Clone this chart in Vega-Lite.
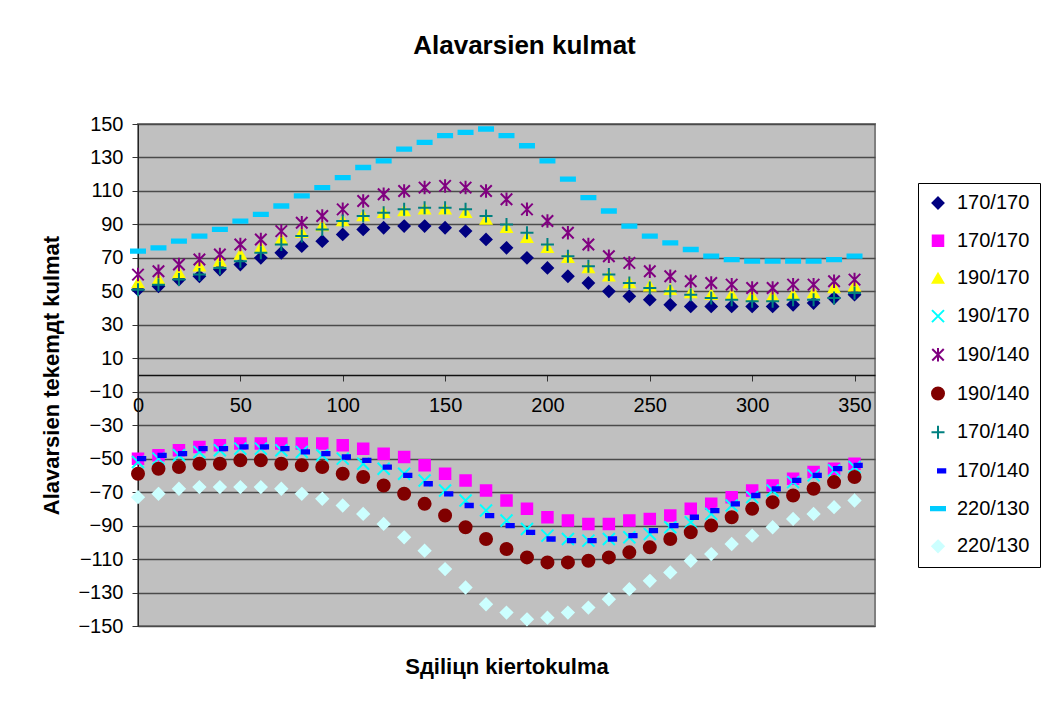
{
  "$schema": "https://vega.github.io/schema/vega-lite/v6.json",
  "autosize": "none",
  "width": 737,
  "height": 502,
  "padding": {"left": 138, "top": 124, "right": 167, "bottom": 78},
  "background": "white",
  "title": {"text": "Alavarsien kulmat", "font": "Liberation Sans", "fontSize": 26, "fontWeight": "bold", "color": "black", "anchor": "middle", "dx": 18, "baseline": "alphabetic", "offset": 34},
  "config": {
    "view": {"fill": "#C0C0C0", "stroke": "#808080", "strokeWidth": 2},
    "axis": {"labelFont": "Liberation Sans", "labelFontSize": 20, "labelColor": "black", "titleFont": "Liberation Sans", "titleFontSize": 22, "titleFontWeight": "bold", "titleColor": "black", "tickColor": "#333", "domainColor": "#222", "tickSize": 6},
    "legend": {"labelFont": "Liberation Sans", "labelFontSize": 20, "labelColor": "black"}
  },
  "data": {"values": [
    {"s":"a","x":0,"y":51},{"s":"a","x":10,"y":53},{"s":"a","x":20,"y":57},{"s":"a","x":30,"y":59},{"s":"a","x":40,"y":63},{"s":"a","x":50,"y":66},{"s":"a","x":60,"y":70},{"s":"a","x":70,"y":73},{"s":"a","x":80,"y":77},{"s":"a","x":90,"y":80},{"s":"a","x":100,"y":84},{"s":"a","x":110,"y":87},{"s":"a","x":120,"y":88},{"s":"a","x":130,"y":89},{"s":"a","x":140,"y":89},{"s":"a","x":150,"y":88},{"s":"a","x":160,"y":86},{"s":"a","x":170,"y":81},{"s":"a","x":180,"y":76},{"s":"a","x":190,"y":70},{"s":"a","x":200,"y":64},{"s":"a","x":210,"y":59},{"s":"a","x":220,"y":55},{"s":"a","x":230,"y":50},{"s":"a","x":240,"y":47},{"s":"a","x":250,"y":45},{"s":"a","x":260,"y":42},{"s":"a","x":270,"y":41},{"s":"a","x":280,"y":41},{"s":"a","x":290,"y":41},{"s":"a","x":300,"y":41},{"s":"a","x":310,"y":41},{"s":"a","x":320,"y":42},{"s":"a","x":330,"y":43},{"s":"a","x":340,"y":46},{"s":"a","x":350,"y":48},
    {"s":"b","x":0,"y":-50},{"s":"b","x":10,"y":-48},{"s":"b","x":20,"y":-45},{"s":"b","x":30,"y":-43},{"s":"b","x":40,"y":-42},{"s":"b","x":50,"y":-41},{"s":"b","x":60,"y":-41},{"s":"b","x":70,"y":-41},{"s":"b","x":80,"y":-41},{"s":"b","x":90,"y":-41},{"s":"b","x":100,"y":-42},{"s":"b","x":110,"y":-44},{"s":"b","x":120,"y":-47},{"s":"b","x":130,"y":-49},{"s":"b","x":140,"y":-54},{"s":"b","x":150,"y":-59},{"s":"b","x":160,"y":-63},{"s":"b","x":170,"y":-69},{"s":"b","x":180,"y":-75},{"s":"b","x":190,"y":-80},{"s":"b","x":200,"y":-85},{"s":"b","x":210,"y":-87},{"s":"b","x":220,"y":-89},{"s":"b","x":230,"y":-89},{"s":"b","x":240,"y":-87},{"s":"b","x":250,"y":-86},{"s":"b","x":260,"y":-84},{"s":"b","x":270,"y":-80},{"s":"b","x":280,"y":-77},{"s":"b","x":290,"y":-73},{"s":"b","x":300,"y":-69},{"s":"b","x":310,"y":-66},{"s":"b","x":320,"y":-62},{"s":"b","x":330,"y":-58},{"s":"b","x":340,"y":-56},{"s":"b","x":350,"y":-53},
    {"s":"c","x":0,"y":55},{"s":"c","x":10,"y":57},{"s":"c","x":20,"y":61},{"s":"c","x":30,"y":65},{"s":"c","x":40,"y":68},{"s":"c","x":50,"y":72},{"s":"c","x":60,"y":76},{"s":"c","x":70,"y":81},{"s":"c","x":80,"y":85},{"s":"c","x":90,"y":89},{"s":"c","x":100,"y":92},{"s":"c","x":110,"y":95},{"s":"c","x":120,"y":97},{"s":"c","x":130,"y":98},{"s":"c","x":140,"y":99},{"s":"c","x":150,"y":99},{"s":"c","x":160,"y":97},{"s":"c","x":170,"y":93},{"s":"c","x":180,"y":88},{"s":"c","x":190,"y":82},{"s":"c","x":200,"y":76},{"s":"c","x":210,"y":70},{"s":"c","x":220,"y":64},{"s":"c","x":230,"y":59},{"s":"c","x":240,"y":55},{"s":"c","x":250,"y":53},{"s":"c","x":260,"y":51},{"s":"c","x":270,"y":49},{"s":"c","x":280,"y":48},{"s":"c","x":290,"y":48},{"s":"c","x":300,"y":47},{"s":"c","x":310,"y":47},{"s":"c","x":320,"y":48},{"s":"c","x":330,"y":49},{"s":"c","x":340,"y":52},{"s":"c","x":350,"y":53},
    {"s":"d","x":0,"y":-52},{"s":"d","x":10,"y":-50},{"s":"d","x":20,"y":-48},{"s":"d","x":30,"y":-46},{"s":"d","x":40,"y":-45},{"s":"d","x":50,"y":-44},{"s":"d","x":60,"y":-44},{"s":"d","x":70,"y":-45},{"s":"d","x":80,"y":-46},{"s":"d","x":90,"y":-48},{"s":"d","x":100,"y":-50},{"s":"d","x":110,"y":-53},{"s":"d","x":120,"y":-56},{"s":"d","x":130,"y":-59},{"s":"d","x":140,"y":-63},{"s":"d","x":150,"y":-69},{"s":"d","x":160,"y":-75},{"s":"d","x":170,"y":-81},{"s":"d","x":180,"y":-87},{"s":"d","x":190,"y":-92},{"s":"d","x":200,"y":-96},{"s":"d","x":210,"y":-98},{"s":"d","x":220,"y":-99},{"s":"d","x":230,"y":-98},{"s":"d","x":240,"y":-97},{"s":"d","x":250,"y":-95},{"s":"d","x":260,"y":-91},{"s":"d","x":270,"y":-88},{"s":"d","x":280,"y":-83},{"s":"d","x":290,"y":-78},{"s":"d","x":300,"y":-73},{"s":"d","x":310,"y":-69},{"s":"d","x":320,"y":-64},{"s":"d","x":330,"y":-60},{"s":"d","x":340,"y":-57},{"s":"d","x":350,"y":-55},
    {"s":"e","x":0,"y":60},{"s":"e","x":10,"y":62},{"s":"e","x":20,"y":66},{"s":"e","x":30,"y":69},{"s":"e","x":40,"y":72},{"s":"e","x":50,"y":78},{"s":"e","x":60,"y":81},{"s":"e","x":70,"y":86},{"s":"e","x":80,"y":91},{"s":"e","x":90,"y":95},{"s":"e","x":100,"y":99},{"s":"e","x":110,"y":104},{"s":"e","x":120,"y":108},{"s":"e","x":130,"y":110},{"s":"e","x":140,"y":112},{"s":"e","x":150,"y":113},{"s":"e","x":160,"y":112},{"s":"e","x":170,"y":110},{"s":"e","x":180,"y":105},{"s":"e","x":190,"y":99},{"s":"e","x":200,"y":92},{"s":"e","x":210,"y":85},{"s":"e","x":220,"y":78},{"s":"e","x":230,"y":71},{"s":"e","x":240,"y":67},{"s":"e","x":250,"y":62},{"s":"e","x":260,"y":59},{"s":"e","x":270,"y":56},{"s":"e","x":280,"y":55},{"s":"e","x":290,"y":54},{"s":"e","x":300,"y":52},{"s":"e","x":310,"y":52},{"s":"e","x":320,"y":54},{"s":"e","x":330,"y":54},{"s":"e","x":340,"y":56},{"s":"e","x":350,"y":57},
    {"s":"f","x":0,"y":-59},{"s":"f","x":10,"y":-56},{"s":"f","x":20,"y":-55},{"s":"f","x":30,"y":-53},{"s":"f","x":40,"y":-53},{"s":"f","x":50,"y":-51},{"s":"f","x":60,"y":-51},{"s":"f","x":70,"y":-53},{"s":"f","x":80,"y":-54},{"s":"f","x":90,"y":-55},{"s":"f","x":100,"y":-59},{"s":"f","x":110,"y":-61},{"s":"f","x":120,"y":-66},{"s":"f","x":130,"y":-71},{"s":"f","x":140,"y":-77},{"s":"f","x":150,"y":-84},{"s":"f","x":160,"y":-91},{"s":"f","x":170,"y":-98},{"s":"f","x":180,"y":-104},{"s":"f","x":190,"y":-109},{"s":"f","x":200,"y":-112},{"s":"f","x":210,"y":-112},{"s":"f","x":220,"y":-111},{"s":"f","x":230,"y":-109},{"s":"f","x":240,"y":-106},{"s":"f","x":250,"y":-103},{"s":"f","x":260,"y":-98},{"s":"f","x":270,"y":-94},{"s":"f","x":280,"y":-90},{"s":"f","x":290,"y":-85},{"s":"f","x":300,"y":-80},{"s":"f","x":310,"y":-76},{"s":"f","x":320,"y":-72},{"s":"f","x":330,"y":-68},{"s":"f","x":340,"y":-64},{"s":"f","x":350,"y":-61},
    {"s":"g","x":0,"y":51},{"s":"g","x":10,"y":54},{"s":"g","x":20,"y":57},{"s":"g","x":30,"y":60},{"s":"g","x":40,"y":64},{"s":"g","x":50,"y":68},{"s":"g","x":60,"y":73},{"s":"g","x":70,"y":78},{"s":"g","x":80,"y":83},{"s":"g","x":90,"y":87},{"s":"g","x":100,"y":92},{"s":"g","x":110,"y":95},{"s":"g","x":120,"y":97},{"s":"g","x":130,"y":99},{"s":"g","x":140,"y":100},{"s":"g","x":150,"y":100},{"s":"g","x":160,"y":99},{"s":"g","x":170,"y":95},{"s":"g","x":180,"y":90},{"s":"g","x":190,"y":85},{"s":"g","x":200,"y":78},{"s":"g","x":210,"y":71},{"s":"g","x":220,"y":65},{"s":"g","x":230,"y":60},{"s":"g","x":240,"y":55},{"s":"g","x":250,"y":52},{"s":"g","x":260,"y":50},{"s":"g","x":270,"y":48},{"s":"g","x":280,"y":46},{"s":"g","x":290,"y":45},{"s":"g","x":300,"y":44},{"s":"g","x":310,"y":44},{"s":"g","x":320,"y":45},{"s":"g","x":330,"y":45},{"s":"g","x":340,"y":46},{"s":"g","x":350,"y":49},
    {"s":"h","x":0,"y":-50},{"s":"h","x":10,"y":-48},{"s":"h","x":20,"y":-47},{"s":"h","x":30,"y":-44},{"s":"h","x":40,"y":-44},{"s":"h","x":50,"y":-43},{"s":"h","x":60,"y":-43},{"s":"h","x":70,"y":-44},{"s":"h","x":80,"y":-46},{"s":"h","x":90,"y":-47},{"s":"h","x":100,"y":-49},{"s":"h","x":110,"y":-51},{"s":"h","x":120,"y":-55},{"s":"h","x":130,"y":-60},{"s":"h","x":140,"y":-65},{"s":"h","x":150,"y":-71},{"s":"h","x":160,"y":-78},{"s":"h","x":170,"y":-84},{"s":"h","x":180,"y":-90},{"s":"h","x":190,"y":-94},{"s":"h","x":200,"y":-98},{"s":"h","x":210,"y":-99},{"s":"h","x":220,"y":-99},{"s":"h","x":230,"y":-98},{"s":"h","x":240,"y":-96},{"s":"h","x":250,"y":-93},{"s":"h","x":260,"y":-90},{"s":"h","x":270,"y":-85},{"s":"h","x":280,"y":-81},{"s":"h","x":290,"y":-77},{"s":"h","x":300,"y":-72},{"s":"h","x":310,"y":-68},{"s":"h","x":320,"y":-63},{"s":"h","x":330,"y":-60},{"s":"h","x":340,"y":-56},{"s":"h","x":350,"y":-54},
    {"s":"i","x":0,"y":74},{"s":"i","x":10,"y":76},{"s":"i","x":20,"y":80},{"s":"i","x":30,"y":83},{"s":"i","x":40,"y":87},{"s":"i","x":50,"y":92},{"s":"i","x":60,"y":96},{"s":"i","x":70,"y":101},{"s":"i","x":80,"y":107},{"s":"i","x":90,"y":112},{"s":"i","x":100,"y":118},{"s":"i","x":110,"y":124},{"s":"i","x":120,"y":128},{"s":"i","x":130,"y":135},{"s":"i","x":140,"y":139},{"s":"i","x":150,"y":143},{"s":"i","x":160,"y":145},{"s":"i","x":170,"y":147},{"s":"i","x":180,"y":143},{"s":"i","x":190,"y":137},{"s":"i","x":200,"y":128},{"s":"i","x":210,"y":117},{"s":"i","x":220,"y":106},{"s":"i","x":230,"y":98},{"s":"i","x":240,"y":89},{"s":"i","x":250,"y":83},{"s":"i","x":260,"y":79},{"s":"i","x":270,"y":75},{"s":"i","x":280,"y":71},{"s":"i","x":290,"y":69},{"s":"i","x":300,"y":68},{"s":"i","x":310,"y":68},{"s":"i","x":320,"y":68},{"s":"i","x":330,"y":68},{"s":"i","x":340,"y":69},{"s":"i","x":350,"y":71},
    {"s":"j","x":0,"y":-73},{"s":"j","x":10,"y":-71},{"s":"j","x":20,"y":-68},{"s":"j","x":30,"y":-67},{"s":"j","x":40,"y":-67},{"s":"j","x":50,"y":-67},{"s":"j","x":60,"y":-67},{"s":"j","x":70,"y":-68},{"s":"j","x":80,"y":-71},{"s":"j","x":90,"y":-74},{"s":"j","x":100,"y":-78},{"s":"j","x":110,"y":-83},{"s":"j","x":120,"y":-89},{"s":"j","x":130,"y":-97},{"s":"j","x":140,"y":-105},{"s":"j","x":150,"y":-116},{"s":"j","x":160,"y":-127},{"s":"j","x":170,"y":-137},{"s":"j","x":180,"y":-142},{"s":"j","x":190,"y":-146},{"s":"j","x":200,"y":-145},{"s":"j","x":210,"y":-142},{"s":"j","x":220,"y":-139},{"s":"j","x":230,"y":-134},{"s":"j","x":240,"y":-128},{"s":"j","x":250,"y":-123},{"s":"j","x":260,"y":-118},{"s":"j","x":270,"y":-111},{"s":"j","x":280,"y":-107},{"s":"j","x":290,"y":-101},{"s":"j","x":300,"y":-96},{"s":"j","x":310,"y":-91},{"s":"j","x":320,"y":-86},{"s":"j","x":330,"y":-83},{"s":"j","x":340,"y":-79},{"s":"j","x":350,"y":-75}
  ]},
  "mark": {"type": "point", "filled": true, "size": 100, "strokeWidth": 2, "opacity": 1},
  "encoding": {
    "x": {"field": "x", "type": "quantitative",
      "scale": {"domain": [0, 360], "nice": false, "zero": false},
      "axis": {"title": "Sдiliцn kiertokulma", "values": [0, 50, 100, 150, 200, 250, 300, 350], "grid": false, "offset": -251, "domainWidth": 1.5, "domainColor": "#111", "labelPadding": 14, "titleY": 298, "titleBaseline": "alphabetic", "labelFlush": false}},
    "y": {"field": "y", "type": "quantitative",
      "scale": {"domain": [-150, 150], "nice": false, "zero": false},
      "axis": {"title": "Alavarsien tekemдt kulmat", "values": [-150, -130, -110, -90, -70, -50, -30, -10, 10, 30, 50, 70, 90, 110, 130, 150], "grid": true, "gridColor": "#4a4a4a", "gridWidth": 1.5, "labelPadding": 9, "titlePadding": 14, "labelFlush": false}},
    "fill": {"field": "s", "type": "nominal",
      "scale": {"domain": ["a","b","c","d","e","f","g","h","i","j"], "range": ["#000080","#FF00FF","#FFFF00","#00FFFF","#800080","#800000","#008080","#0000FF","#00CCFF","#CCFFFF"]},
      "legend": {"title": null, "orient": "none", "legendX": 780, "legendY": 59, "padding": 10, "rowPadding": 17.7, "strokeColor": "#000", "fillColor": "white", "symbolSize": 100, "symbolStrokeWidth": 2, "labelOffset": 9, "labelFontSize": 20,
        "labelExpr": "datum.label == 'a' || datum.label == 'b' ? '170/170' : datum.label == 'c' || datum.label == 'd' ? '190/170' : datum.label == 'e' || datum.label == 'f' ? '190/140' : datum.label == 'g' || datum.label == 'h' ? '170/140' : '220/130'"}},
    "stroke": {"field": "s", "type": "nominal",
      "scale": {"domain": ["a","b","c","d","e","f","g","h","i","j"], "range": ["#000080","#FF00FF","#FFFF00","#00FFFF","#800080","#800000","#008080","#0000FF","#00CCFF","#CCFFFF"]},
      "legend": {"title": null, "orient": "none", "legendX": 780, "legendY": 59, "padding": 10, "rowPadding": 17.7, "strokeColor": "#000", "fillColor": "white", "symbolSize": 100, "symbolStrokeWidth": 2, "labelOffset": 9, "labelFontSize": 20,
        "labelExpr": "datum.label == 'a' || datum.label == 'b' ? '170/170' : datum.label == 'c' || datum.label == 'd' ? '190/170' : datum.label == 'e' || datum.label == 'f' ? '190/140' : datum.label == 'g' || datum.label == 'h' ? '170/140' : '220/130'"}},
    "shape": {"field": "s", "type": "nominal",
      "scale": {"domain": ["a","b","c","d","e","f","g","h","i","j"], "range": [
        "M0,-1.1L1.1,0L0,1.1L-1.1,0Z",
        "M-1.05,-1.05H1.05V1.05H-1.05Z",
        "M0,-0.95L1.05,0.85L-1.05,0.85Z",
        "M-1.2,-1.2L1.2,1.2M1.2,-1.2L-1.2,1.2",
        "M-1.15,-1.15L1.15,1.15M1.15,-1.15L-1.15,1.15M0,-1.35L0,1.35",
        "M-1.2,0A1.2,1.2,0,1,1,1.2,0A1.2,1.2,0,1,1,-1.2,0Z",
        "M-1.3,0H1.3M0,-1.3V1.3",
        "M0,-0.33H1.45V0.33H0Z",
        "M-1.4,-0.33H1.4V0.33H-1.4Z",
        "M0,-1.15L1.15,0L0,1.15L-1.15,0Z"
      ]},
      "legend": {"title": null, "orient": "none", "legendX": 780, "legendY": 59, "padding": 10, "rowPadding": 17.7, "strokeColor": "#000", "fillColor": "white", "symbolSize": 100, "symbolStrokeWidth": 2, "labelOffset": 9, "labelFontSize": 20,
        "labelExpr": "datum.label == 'a' || datum.label == 'b' ? '170/170' : datum.label == 'c' || datum.label == 'd' ? '190/170' : datum.label == 'e' || datum.label == 'f' ? '190/140' : datum.label == 'g' || datum.label == 'h' ? '170/140' : '220/130'"}}
  }
}
